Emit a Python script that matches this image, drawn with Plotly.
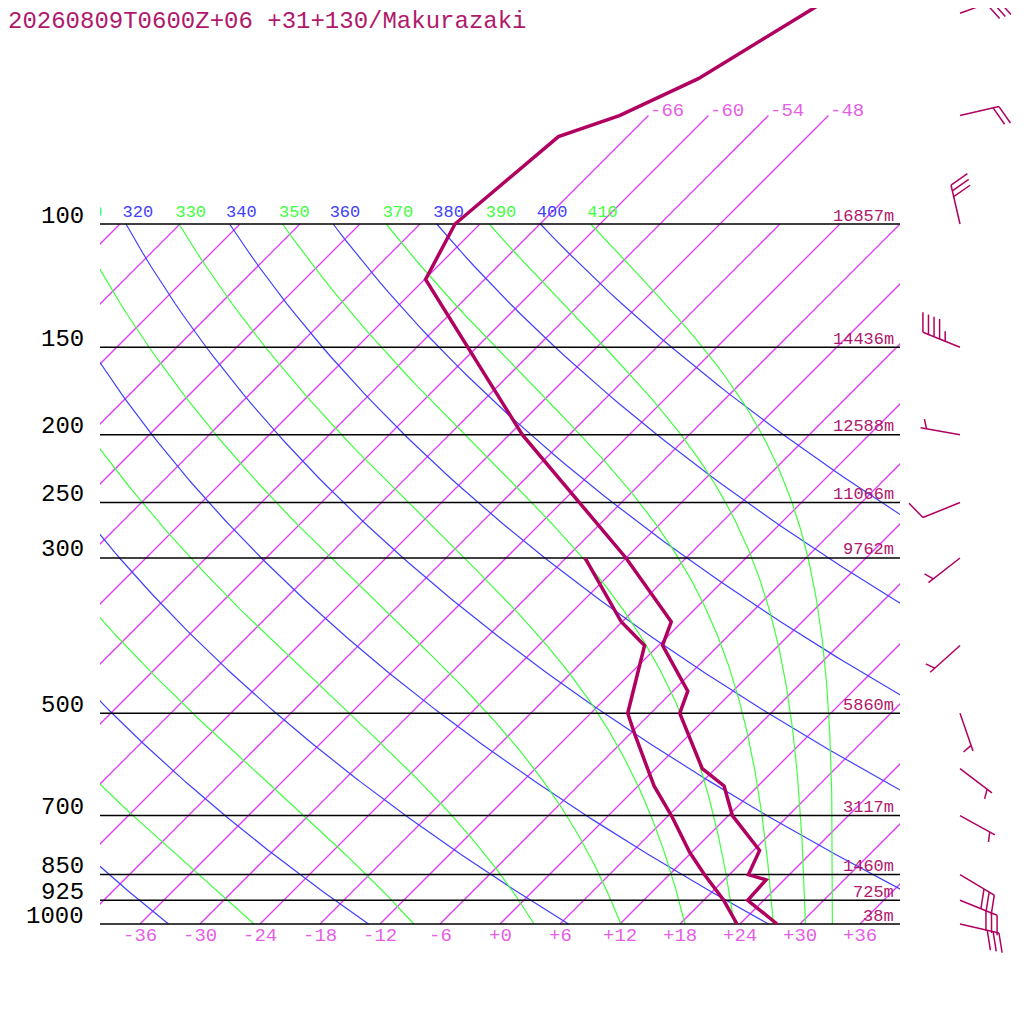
import numpy as np
import plotly.graph_objects as go

# sounding (hPa, degC)
temp_p = [1000, 925, 865, 850, 785, 700, 635, 600, 500, 465, 400, 370, 300, 250, 200, 120, 100, 75, 70, 62, 45]
temp_t = [27.7, 22.4, 22.2, 19.9, 18.6, 12.4, 8.6, 4.7, -3.1, -4.5, -11.6, -13.1, -24.0, -34.2, -46.7,
          -71.9, -74.5, -72.9, -68.9, -64.7, -58.5]
dewp_p = [1000, 925, 850, 790, 700, 635, 537, 500, 400, 370, 300]
dewp_t = [23.7, 20.0, 15.5, 11.8, 6.3, 1.6, -5.4, -8.3, -13.4, -18.1, -28.1]

std_p = [1000, 925, 850, 700, 500, 300, 250, 200, 150, 100]
std_hgt = ["38m", "725m", "1460m", "3117m", "5860m", "9762m", "11066m", "12588m", "14436m", "16857m"]

wind_p = [1000, 925, 850, 700, 600, 500, 400, 300, 250, 200, 150, 100, 70, 50]
wind_dir = [103, 112, 121, 119, 127, 161, 228, 232, 248, 280, 292, 347, 77, 70]
wind_kt = [30, 30, 30, 5, 5, 5, 5, 5, 10, 5, 45, 30, 20, 30]

isotherms = list(range(-108, 37, 6))
isotherms_upper = [-66, -60, -54, -48]   # these run on up to 70 hPa
tick_temps = list(range(-36, 37, 6))
dry_theta = list(range(240, 401, 20))
moist_thetae = list(range(250, 411, 20))
dry_labels = [320, 340, 360, 380, 400]
moist_labels = [310, 330, 350, 370, 390, 410]

title = "20260809T0600Z+06 +31+130/Makurazaki"

SKEW = 70.0
OFF = 8  # page offset of the plot div
MONO = "Liberation Mono"
C_PROF = "rgb(176,0,96)"
C_TEXT = "rgb(176,24,108)"
C_ISO = "rgb(225,60,245)"
C_ISO_TXT = "rgb(228,96,228)"
C_DRY = "rgb(64,64,255)"
C_MOIST = "rgb(64,255,64)"


def skx(t, p):
    return np.asarray(t, dtype=float) + SKEW * np.log10(1000.0 / np.asarray(p, dtype=float))


def thetae(T, p):
    tc = T - 273.15
    es = 6.112 * np.exp(17.67 * tc / (tc + 243.5))
    r = 622.0 * es / (p - es)
    return T * (1000.0 / p) ** (0.2854 * (1 - 0.00028 * r)) * np.exp((3.376 / T - 0.00254) * r * (1 + 0.00081 * r))


def moist_T(te, p):
    lo = np.full_like(p, 100.0)
    hi = np.full_like(p, 310.0)
    for _ in range(60):
        mid = 0.5 * (lo + hi)
        up = thetae(mid, p) > te
        hi = np.where(up, mid, hi)
        lo = np.where(up, lo, mid)
    return 0.5 * (lo + hi) - 273.15


def joined(lines):
    xs, ys = [], []
    for x, y in lines:
        xs += [float(v) for v in x] + [None]
        ys += [float(v) for v in y] + [None]
    return xs, ys


fig = go.Figure()
pgrid = np.linspace(1000, 100, 181)

# isotherms
iso = []
for t in isotherms:
    ptop = 70 if t in isotherms_upper else 100
    iso.append((skx([t, t], [1000, ptop]), [1000, ptop]))
x, y = joined(iso)
fig.add_trace(go.Scatter(x=x, y=y, xaxis="x2", yaxis="y", mode="lines", line=dict(color=C_ISO, width=1.3)))

# dry adiabats
dry = [(skx(th * (pgrid / 1000.0) ** 0.2857 - 273.15, pgrid), pgrid) for th in dry_theta]
x, y = joined(dry)
fig.add_trace(go.Scatter(x=x, y=y, xaxis="x2", yaxis="y", mode="lines", line=dict(color=C_DRY, width=1.2)))

# moist adiabats
moist = [(skx(moist_T(te, pgrid), pgrid), pgrid) for te in moist_thetae]
x, y = joined(moist)
fig.add_trace(go.Scatter(x=x, y=y, xaxis="x2", yaxis="y", mode="lines", line=dict(color=C_MOIST, width=1.2)))

# pressure lines
x, y = joined([([-40, 40], [p, p]) for p in std_p])
fig.add_trace(go.Scatter(x=x, y=y, xaxis="x2", yaxis="y", mode="lines", line=dict(color="black", width=1.5)))

# theta labels along 100 hPa (clipped at the diagram edge)
lab_p = 100 * 10 ** (-11 / 700.0)
for vals, col, fn in [(dry_labels, C_DRY, lambda v: v * 0.1 ** 0.2857 - 273.15),
                      (moist_labels, C_MOIST, lambda v: moist_T(v, np.array([100.0]))[0])]:
    xs = [float(skx(fn(v), 100)) - 0.35 for v in vals]
    fig.add_trace(go.Scatter(x=xs, y=[lab_p] * len(vals), xaxis="x2", yaxis="y", mode="text",
                             text=[str(v) for v in vals], textposition="middle right", cliponaxis=True,
                             textfont=dict(family=MONO, size=17, color=col)))

# sounding
fig.add_trace(go.Scatter(x=skx(dewp_t, dewp_p), y=dewp_p, xaxis="x2", yaxis="y", mode="lines",
                         line=dict(color=C_PROF, width=3.5)))
fig.add_trace(go.Scatter(x=skx(temp_t, temp_p), y=temp_p, xaxis="x2", yaxis="y", mode="lines",
                         line=dict(color=C_PROF, width=3.5)))

# wind barbs (pixel x axis, pressure y axis)
STN, STAFF, FEATHER, GAP, ANG = 960, 40, 20, 6, np.radians(68)
barbs = []
for p, d, s in zip(wind_p, wind_dir, wind_kt):
    ux, uy = np.sin(np.radians(d)), -np.cos(np.radians(d))
    bx, by = ux * np.cos(ANG) - uy * np.sin(ANG), ux * np.sin(ANG) + uy * np.cos(ANG)
    segs = [((0, 0), (ux * STAFF, uy * STAFF))]
    nfull, half = s // 10, (s % 10) >= 5
    pos = 1 if (nfull == 0 and half) else 0
    for i in range(nfull):
        a = STAFF - pos * GAP
        segs.append(((ux * a, uy * a), (ux * a + bx * FEATHER, uy * a + by * FEATHER)))
        pos += 1
    if half:
        a = STAFF - pos * GAP
        segs.append(((ux * a, uy * a), (ux * a + bx * FEATHER / 2, uy * a + by * FEATHER / 2)))
    for (x0, y0), (x1, y1) in segs:
        barbs.append(([STN + x0, STN + x1], [p * 10 ** (y0 / 700.0), p * 10 ** (y1 / 700.0)]))
x, y = joined(barbs)
fig.add_trace(go.Scatter(x=x, y=y, xaxis="x", yaxis="y", mode="lines", line=dict(color=C_PROF, width=1.5)))

ann = []
ann.append(dict(text=title, xref="paper", yref="paper", x=(8 - OFF - 2) / 1024, y=1 - (21 - OFF) / 1024,
                xanchor="left", yanchor="middle", showarrow=False, font=dict(family=MONO, size=24, color=C_TEXT)))
for p, h in zip(std_p, std_hgt):
    ann.append(dict(text=str(p), xref="x", yref="y", x=86, y=np.log10(p), xanchor="right", yanchor="middle",
                    yshift=8, showarrow=False, font=dict(family=MONO, size=24, color="black")))
    ann.append(dict(text=h, xref="x2", yref="y", x=39.6, y=np.log10(p), xanchor="right", yanchor="middle",
                    yshift=8, showarrow=False, font=dict(family=MONO, size=17, color=C_TEXT)))
for t in tick_temps:
    ann.append(dict(text=f"{t:+d}", xref="x2", yref="y", x=t, y=3.0, xanchor="center", yanchor="middle",
                    yshift=-12, showarrow=False, font=dict(family=MONO, size=19, color=C_ISO_TXT)))
for t in isotherms_upper:
    ann.append(dict(text=str(t), xref="x2", yref="y", x=float(skx(t, 70)), y=np.log10(70), xanchor="left",
                    yanchor="middle", yshift=5, showarrow=False, font=dict(family=MONO, size=19, color=C_ISO_TXT)))

fig.update_layout(
    width=1024, height=1024,
    margin=dict(l=0, r=0, t=0, b=0),
    paper_bgcolor="white", plot_bgcolor="rgba(0,0,0,0)",
    showlegend=False,
    annotations=ann,
    xaxis=dict(range=[OFF, 1024 + OFF], domain=[0, 1], visible=False, fixedrange=True),
    xaxis2=dict(range=[-40, 40], domain=[(100 - OFF) / 1024, (900 - OFF) / 1024], anchor="y", visible=False,
                fixedrange=True),
    yaxis=dict(type="log", range=[3 + (1024 + OFF - 924) / 700.0, 3 - (924 - OFF) / 700.0], domain=[0, 1],
               visible=False, fixedrange=True),
)

fig.write_html("out.html")
